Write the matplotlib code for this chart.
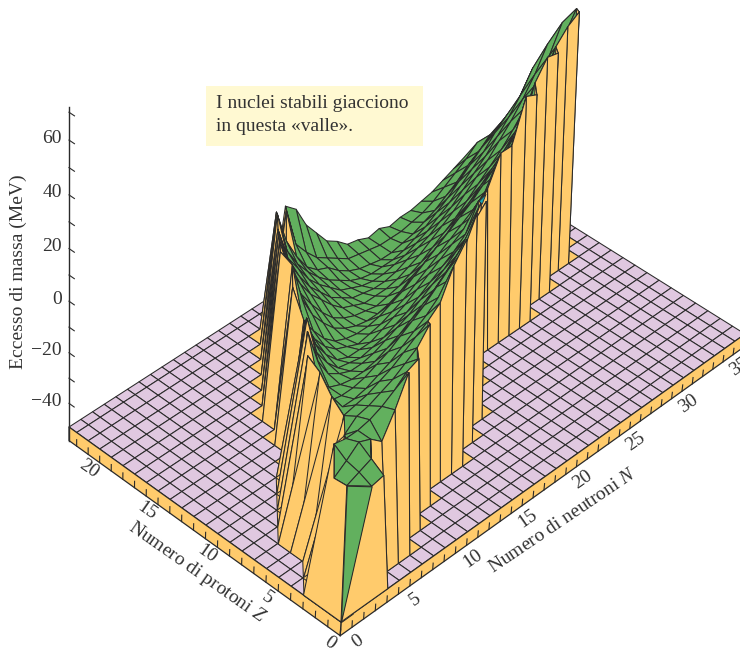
import numpy as np
import matplotlib
matplotlib.use('Agg')
import matplotlib.pyplot as plt
from matplotlib.patches import Rectangle
from mpl_toolkits.mplot3d.art3d import Poly3DCollection

plt.rcParams['font.family'] = ['Liberation Serif', 'DejaVu Serif']
plt.rcParams['mathtext.fontset'] = 'custom'
plt.rcParams['mathtext.it'] = 'Liberation Serif:italic'
plt.rcParams['mathtext.rm'] = 'Liberation Serif'

W, H = 740, 648
YELLOW = '#FFCB6C'
GREEN = '#62B05E'
PURPLE = '#E0C8E0'
TEAL = '#1AA6B7'
LINE = '#2A2A2A'
TEXT = '#333333'

# mass excess (MeV), one list per proton number Z,
# first_n is the neutron number of the first value in each list
first_n = [2, 1, 1, 2, 4, 5, 5, 5, 5, 6, 7, 8, 9, 9, 10, 10, 11, 12, 13, 14, 15, 17, 18]
excess_by_z = [
    [-3, -2],
    [-3, -1, 1],
    [-3.5, 0, 4, 2, -2, 7, 18],
    [3, 2, 2, 3, 5, 8, 12, 14],
    [-3, 1, 2, 4, 6, 9, 12, 18],
    [-2, -1, 0, 2, 4, 7, 10, 13, 17, 28, 35],
    [2, -5, -5, -4, -2, 0, 3, 6, 9, 13, 17, 25, 36],
    [8, -6, -7, -7, -6, -4, -2, 1, 4, 7, 11, 15, 20, 27, 32],
    [11, -2, -7, -9, -10, -10, -9, -7, -5, -2, 1, 4, 8, 12, 16],
    [14, 0, -8, -11, -13, -13, -12, -10, -8, -6, -3, 0, 3, 7, 10, 20],
    [13, -3, -10, -15, -16, -17, -16, -15, -13, -11, -8, -5, -2, 1, 5, 15],
    [5, -6, -13, -18, -20, -20, -20, -18, -16, -14, -11, -8, -5, -2, 1, 4, 11, 22, 22, 38, 36],
    [0, -10, -16, -20, -22, -24, -23, -22, -20, -18, -15, -12, -9, -6, -3, 0, 4, 8, 12, 17, 35, 42, 41],
    [9.5, -6, -13, -19, -23, -25, -26, -26, -25, -23, -21, -18, -15, -12, -9, -6, -3, 1, 5, 9, 14, 20, 26, 38, 43, 46],
    [12, -4, -13, -19, -24, -27, -29, -30, -30, -29, -27, -24, -22, -19, -16, -12, -9, -5, -1, 3, 8, 14, 20, 27, 34, 42],
    [14, 2, -8, -15, -21, -26, -29, -31, -32, -33, -32, -31, -29, -27, -24, -21, -18, -14, -10, -6, -2, 3, 9, 16, 24, 34],
    [12, -2, -10, -17, -22, -27, -31, -33, -35, -35, -35, -34, -32, -30, -27, -24, -21, -17, -13, -9, -4, 1, 7, 14, 23],
    [9, -5, -13, -20, -25, -30, -33, -36, -37, -38, -38, -37, -35, -33, -31, -28, -25, -21, -17, -13, -8, -3, 3, 11],
    [5, -9, -16, -23, -28, -32, -36, -38, -40, -41, -41, -40, -39, -37, -35, -32, -29, -25, -21, -17, -12, -8, -5],
    [5, -12, -20, -26, -31, -35, -38, -41, -43, -44, -44, -44, -43, -41, -39, -36, -33, -29, -25, -21, -18, -15],
    [0, -14, -23, -30, -34, -36, -40, -43, -45, -46, -47, -47, -46, -45, -43, -41, -38, -35, -31, -28, -24],
    [-8, -24, -30, -35, -38, -41, -44, -45, -46, -47, -47, -47, -46, -45, -43, -40, -37, -34, -30],
    [-12, -16, -25, -31, -37, -40, -44, -45, -47, -46, -48, -47, -47, -46, -45, -43, -41, -39],
]

# where the long walls on the proton side leave the floor, Z = 3 to 12
wall_z = [3, 4, 5, 6, 7, 8, 9, 10, 11, 12]
wall_foot_n = [0, 1, 2, 2, 2, 3, 4, 5, 6, 8]

n_ticks = [0, 5, 10, 15, 20, 25, 30, 35]
z_ticks = [0, 5, 10, 15, 20]
e_ticks = [-40, -20, 0, 20, 40, 60]

NMAX, ZMAX = 37, 22.67
BASE, BOTTOM, ETOP = -49.5, -55, 72
z_nodes = list(range(23)) + [ZMAX]

# camera: floor corners and vertical vanishing point, in image pixels
src = [(0, 0), (0, ZMAX), (NMAX, 0), (NMAX, ZMAX)]
dst = [(341, 622), (69, 427), (745, 334), (475, 165)]
A, b = [], []
for (x, y), (u, v) in zip(src, dst):
    A.append([x, y, 1, 0, 0, 0, -u * x, -u * y])
    A.append([0, 0, 0, x, y, 1, -v * x, -v * y])
    b += [u, v]
h = np.linalg.solve(np.array(A, float), np.array(b, float))
Hm = np.array([h[:3], h[3:6], [h[6], h[7], 1.0]])
Vx, Vy, rate = 69.0, 5500.0, 2.48
wB = Hm[2] @ np.array([0, ZMAX, 1.0])
c = -rate * wB / (Vy - 427)
P = np.array([
    [Hm[0, 0], Hm[0, 1], c * Vx, Hm[0, 2] - BASE * c * Vx],
    [Hm[1, 0], Hm[1, 1], c * Vy, Hm[1, 2] - BASE * c * Vy],
    [Hm[2, 0], Hm[2, 1], c, Hm[2, 2] - BASE * c],
])


def to_pixel(n, z, e):
    p = P @ np.array([n, z, e, 1.0])
    return p[0] / p[2], p[1] / p[2]


fig = plt.figure(figsize=(W / 100, H / 100), dpi=100)
ax = fig.add_axes([0, (H - W) / H, 1, W / H], projection='3d')
ax.set_axis_off()
ax.set_proj_type('ortho')
ax.computed_zorder = False


def pixel_proj():
    # same camera, handed to mplot3d in its 2d view coordinates
    x0, x1 = ax.viewLim.intervalx
    y0, y1 = ax.viewLim.intervaly
    T = np.array([[(x1 - x0) / W, 0, x0], [0, -(y1 - y0) / W, y1], [0, 0, 1]])
    Q = T @ P
    return np.array([Q[0], Q[1], [1, 1, 0, 0], Q[2]])


ax.get_proj = pixel_proj


def add_faces(verts, cols, order, lw=0.75):
    pc = Poly3DCollection(verts, facecolors=cols, edgecolors=LINE, linewidths=lw)
    pc.set_zorder(order)
    ax.add_collection3d(pc, autolim=False)


# height grid, everything outside the band sits on the floor
grid = np.full((len(z_nodes), NMAX + 1), BASE, dtype=float)
for z, (n0, vals) in enumerate(zip(first_n, excess_by_z)):
    grid[z, n0:n0 + len(vals)] = vals
up = grid != BASE

floor = []
polys = {}
for z in range(len(z_nodes) - 1):
    for n in range(NMAX):
        corners = [(n, z), (n + 1, z), (n + 1, z + 1), (n, z + 1)]
        pts = [(i, z_nodes[j], grid[j, i]) for i, j in corners]
        flags = [up[j, i] for i, j in corners]
        verts, cols = polys.setdefault(n + z, ([], []))
        if not any(flags):
            floor.append(pts)
        elif z == 22:
            continue  # the Z = 22 row is the back rim of the surface
        elif all(flags):
            verts.append(pts)
            cols.append(GREEN)
        elif sum(flags) == 3:
            k = flags.index(False)
            tri_up = [pts[(k + s) % 4] for s in (1, 2, 3)]
            tri_low = [pts[k], pts[(k + 1) % 4], pts[(k + 3) % 4]]
            verts.extend([tri_low, tri_up])
            # jagged proton side: the notch between two spikes stays yellow
            notch = k == 3 and z >= 8
            cols.extend([YELLOW, YELLOW if notch else GREEN])
        else:
            verts.append(pts)
            cols.append(YELLOW)

# the floor goes first, everything else stands on it
add_faces(floor, PURPLE, 1)
for s, (verts, cols) in polys.items():
    if verts:
        add_faces(verts, cols, 200 - s)

# skirt of the floor slab
skirt = [[(0, 0, BASE), (NMAX, 0, BASE), (NMAX, 0, BOTTOM), (0, 0, BOTTOM)],
         [(0, 0, BASE), (0, ZMAX, BASE), (0, ZMAX, BOTTOM), (0, 0, BOTTOM)]]
add_faces(skirt, YELLOW, 2, lw=0.9)

# long yellow walls on the proton side
for i in range(len(wall_z) - 1):
    z0, z1 = wall_z[i], wall_z[i + 1]
    n0, n1 = first_n[z0], first_n[z1]
    face = [(wall_foot_n[i], z0, BASE), (wall_foot_n[i + 1], z1, BASE),
            (n1, z1, grid[z1, n1])]
    if z0 >= 8:
        face.append((n0 + 1, z0, grid[z0, n0 + 1]))
    face.append((n0, z0, grid[z0, n0]))
    add_faces([face], YELLOW, 200.5 - (n0 + z0))

# big plain faces around the corner, and the green sliver running down to it
corner_faces = [
    [(0, 0, BASE), (0, 3, BASE), (2, 3, grid[3, 2]), (1, 2, grid[2, 1]), (1, 1, grid[1, 1])],
    [(0, 0, BASE), (2, 0, grid[0, 2]), (3, 0, grid[0, 3]), (4, 0, BASE)],
]
add_faces(corner_faces, YELLOW, 204)
add_faces([[(0, 0, BASE), (1, 1, grid[1, 1]), (2, 0, grid[0, 2])]], GREEN, 205)

# one small odd-coloured facet at the end of the Z = 10 row
e10 = grid[10, 22]
add_faces([[(22, 10, e10), (22.6, 10, e10 + 1), (22.3, 10, e10 - 2)]], TEAL, 206, lw=0.6)

for n in range(0, NMAX):
    ax.plot([n, n], [0, 0], [BOTTOM, BOTTOM + 2.6], color=LINE, lw=0.8, zorder=300)
for z in range(0, 23):
    ax.plot([0, 0], [z, z], [BOTTOM, BOTTOM + 2.6], color=LINE, lw=0.8, zorder=300)

ax.plot([0, 0], [ZMAX, ZMAX], [BOTTOM, ETOP], color=LINE, lw=1.0, zorder=300)
for e in range(-40, 71, 10):
    ax.plot([0, 0], [ZMAX, ZMAX - 0.45], [e, e], color=LINE, lw=0.8, zorder=300)


def label(px, py, s, **kw):
    fig.text(px / W, 1 - py / H, s, color=TEXT, ha=kw.pop('ha', 'center'), va='center',
             rotation_mode='anchor', **kw)


for e in e_ticks:
    px, py = to_pixel(0, ZMAX, e)
    label(px - 7, py - 2, str(e).replace('-', '\u2212'), ha='right', fontsize=14)
for n in n_ticks:
    px, py = to_pixel(n + 0.4, -1.0, BOTTOM)
    label(px, py, str(n), rotation=35, fontsize=14)
for z in z_ticks:
    px, py = to_pixel(-0.88, z + 0.03, BOTTOM)
    label(px, py, str(z), rotation=-35, fontsize=14)

label(18, 272, 'Eccesso di massa (MeV)', rotation=90, fontsize=14)
label(563, 521, 'Numero di neutroni $N$', rotation=34, fontsize=14)
label(197, 572, 'Numero di protoni $Z$', rotation=-35, fontsize=14)

fig.add_artist(Rectangle((206 / W, 1 - 146 / H), 217 / W, 60 / H, transform=fig.transFigure,
                         facecolor='#FFF9D2', edgecolor='none'))
fig.text(216 / W, 1 - 115 / H, 'I nuclei stabili giacciono\nin questa «valle».', color=TEXT,
         fontsize=14, va='center', ha='left', linespacing=1.4)

fig.savefig('out.png', dpi=100)
